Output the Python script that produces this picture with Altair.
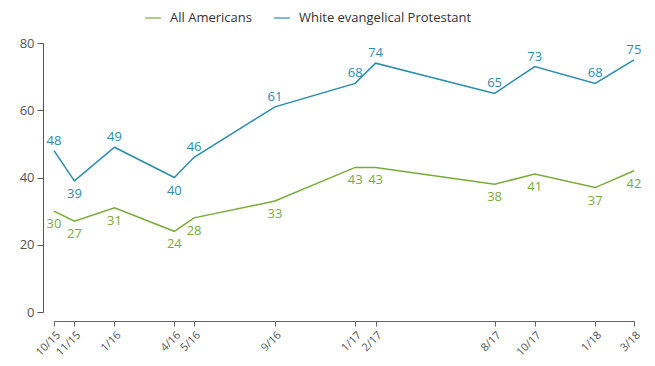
import altair as alt
import pandas as pd

dates = ["2015-10-01", "2015-11-01", "2016-01-01", "2016-04-01", "2016-05-01", "2016-09-01",
         "2017-01-01", "2017-02-01", "2017-08-01", "2017-10-01", "2018-01-01", "2018-03-01"]
all_americans = [30, 27, 31, 24, 28, 33, 43, 43, 38, 41, 37, 42]
white_evangelical = [48, 39, 49, 40, 46, 61, 68, 74, 65, 73, 68, 75]
series_names = ["All Americans", "White evangelical Protestant"]
colors = ["#7aab3a", "#2b8cac"]

rows = []
for d, a, w in zip(dates, all_americans, white_evangelical):
    rows.append({"date": d, "series": series_names[0], "value": a})
    rows.append({"date": d, "series": series_names[1], "value": w})
df = pd.DataFrame(rows)

tick_values = [alt.DateTime(year=int(d[:4]), month=int(d[5:7]), date=1, utc=True) for d in dates]

font = "Open Sans"

x_enc = alt.X("date:T",
              scale=alt.Scale(type="utc",
                              domain=[alt.DateTime(year=2015, month=10, date=1, utc=True),
                                      alt.DateTime(year=2018, month=3, date=1, utc=True)]),
              axis=alt.Axis(values=tick_values, format="%-m/%y", labelAngle=-45,
                            labelAlign="right", labelBaseline="top", title=None,
                            grid=False, offset=9, domainColor="#666", tickColor="#666",
                            labelColor="#555", labelFontSize=11, labelFont=font,
                            labelPadding=3, tickSize=5, labelOverlap=False))
y_enc = alt.Y("value:Q",
              scale=alt.Scale(domain=[0, 80]),
              axis=alt.Axis(values=[0, 20, 40, 60, 80], title=None, grid=False, offset=11,
                            domainColor="#555", tickColor="#555", labelColor="#555",
                            labelFontSize=13, labelFont=font, tickSize=6, labelPadding=3))
color_enc = alt.Color("series:N",
                      scale=alt.Scale(domain=series_names, range=colors),
                      legend=alt.Legend(title=None, orient="none", legendX=90, legendY=-34,
                                        direction="horizontal", symbolType="stroke",
                                        symbolStrokeWidth=2, symbolSize=250, symbolOpacity=0.6,
                                        labelFont=font, labelFontSize=13, labelColor="#333",
                                        columnPadding=18, labelOffset=8, labelLimit=0))

base = alt.Chart(df)

lines = base.mark_line(strokeWidth=1.5).encode(x=x_enc, y=y_enc, color=color_enc)

is_below = "datum.series == 'All Americans' || datum.value == 39 || datum.value == 40"

label_color = alt.Color("series:N", scale=alt.Scale(domain=series_names, range=colors), legend=None)

labels_above = base.mark_text(font=font, fontSize=13, dy=-6, baseline="alphabetic").encode(
    x="date:T", y="value:Q", text="value:Q", color=label_color
).transform_filter("!(" + is_below + ")")

labels_below = base.mark_text(font=font, fontSize=13, dy=17, baseline="alphabetic").encode(
    x="date:T", y="value:Q", text="value:Q", color=label_color
).transform_filter(is_below)

chart = alt.layer(lines, labels_above, labels_below).properties(
    width=580, height=269,
    autosize=alt.AutoSizeParams(type="none"),
    padding={"left": 46, "top": 35, "right": 13, "bottom": 46},
    background="white",
).configure_view(stroke=None)

chart.save("out.html", embed_options={"renderer": "svg", "actions": False})
